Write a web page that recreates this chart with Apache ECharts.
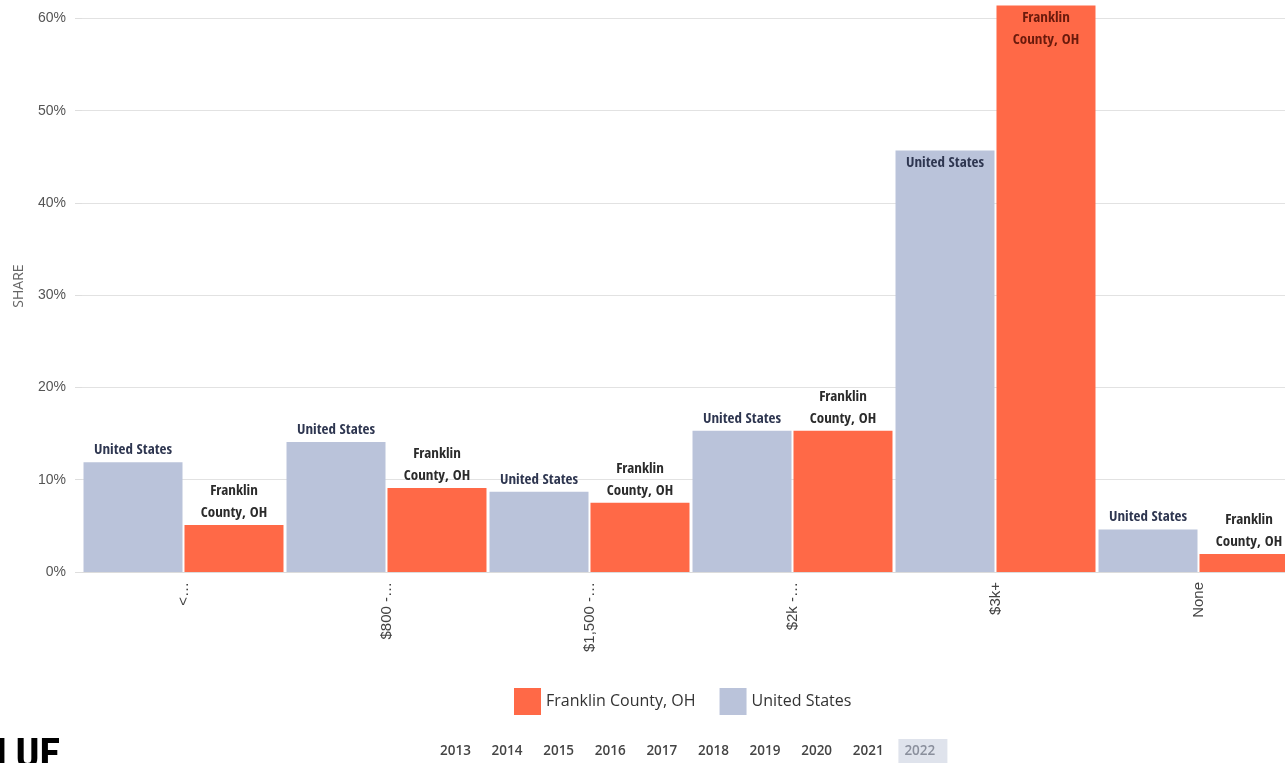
<!DOCTYPE html>
<html>
<head>
<meta charset="utf-8">
<script src="https://cdn.jsdelivr.net/npm/echarts@6/dist/echarts.min.js"></script>
<style>
html,body{margin:0;padding:0;background:#fff;}
#c{width:1285px;height:763px;}
</style>
</head>
<body>
<div id="c"></div>
<script>
const categories = ['<…', '$800 -…', '$1,500 -…', '$2k -…', '$3k+', 'None'];
const usValues = [11.9, 14.1, 8.7, 15.3, 45.7, 4.6];
const franklinValues = [5.1, 9.1, 7.5, 15.3, 61.4, 1.95];
const years = ['2013','2014','2015','2016','2017','2018','2019','2020','2021','2022'];
const selectedYear = '2022';
const yTicks = [0, 10, 20, 30, 40, 50, 60];

const US_COLOR = '#bac3da';
const FR_COLOR = '#ff6947';
const LABEL_FONT = '"Open Sans Condensed", "Roboto Condensed", sans-serif';

function makeData(values, insideColor, outsideColor) {
  return values.map(v => {
    const inside = v > 40;
    return {
      value: v,
      label: {
        position: inside ? 'insideTop' : 'top',
        color: inside ? insideColor : outsideColor,
        distance: inside ? 2 : 1
      }
    };
  });
}

const chart = echarts.init(document.getElementById('c'));

const yearGraphics = [];
const yearStartX = 440, yearStep = 51.6;
years.forEach((y, i) => {
  const x = yearStartX + i * yearStep;
  if (y === selectedYear) {
    yearGraphics.push({
      type: 'rect', left: x - 6, top: 739,
      shape: { width: 49, height: 24 },
      style: { fill: '#dfe3ec' }
    });
  }
  yearGraphics.push({
    type: 'text', left: x, top: 744,
    style: {
      text: y, fontSize: 13.5, fontWeight: 600,
      fontFamily: '"Open Sans", sans-serif',
      fill: y === selectedYear ? '#8a8f9c' : '#444'
    }
  });
});

chart.setOption({
  animation: false,
  backgroundColor: '#fff',
  grid: { left: 82, width: 1218, top: 0, bottom: 191, containLabel: false, outerBoundsMode: 'none' },
  legend: {
    data: ['Franklin County, OH', 'United States'],
    left: 509, top: 683,
    itemWidth: 27, itemHeight: 27, itemGap: 24,
    icon: 'rect',
    textStyle: { fontSize: 16, color: '#333', fontFamily: '"Open Sans", sans-serif' }
  },
  xAxis: {
    type: 'category',
    data: categories,
    axisLine: { show: true, lineStyle: { color: '#dcdcdc' } },
    axisTick: { show: false },
    axisLabel: {
      rotate: 90, margin: 10, fontSize: 15, color: '#444',
      fontFamily: '"Liberation Sans", Arial, sans-serif'
    }
  },
  yAxis: {
    type: 'value',
    min: 0, max: 62, interval: 10,
    name: 'SHARE',
    nameLocation: 'middle',
    nameGap: 56,
    nameTextStyle: { fontSize: 14, color: '#666', fontFamily: '"Open Sans", sans-serif' },
    axisLine: { show: false },
    axisTick: { show: true, length: 7, lineStyle: { color: '#dedede' } },
    axisLabel: {
      margin: 16, fontSize: 14, color: '#555',
      fontFamily: '"Liberation Sans", Arial, sans-serif',
      showMaxLabel: false,
      formatter: v => (yTicks.indexOf(v) >= 0 ? v + '%' : '')
    },
    splitLine: { showMaxLine: false, lineStyle: { color: '#e2e2e2' } }
  },
  series: [
    {
      name: 'United States', type: 'bar',
      barWidth: 99, barGap: '2%',
      itemStyle: { color: US_COLOR },
      label: {
        show: true, formatter: 'United States',
        fontFamily: LABEL_FONT, fontWeight: 'bold', fontSize: 15,
        lineHeight: 22
      },
      data: makeData(usValues, '#2e3650', '#2e3650')
    },
    {
      name: 'Franklin County, OH', type: 'bar',
      barWidth: 99, barGap: '2%',
      itemStyle: { color: FR_COLOR },
      label: {
        show: true, formatter: 'Franklin\nCounty, OH',
        fontFamily: LABEL_FONT, fontWeight: 'bold', fontSize: 15,
        lineHeight: 22
      },
      data: makeData(franklinValues, '#6a1a0c', '#2b2b2b')
    }
  ],
  graphic: [
    {
      type: 'text', left: -4, top: 736,
      style: {
        text: 'LUE', fontSize: 42, fontWeight: 'bold',
        fontFamily: '"Roboto Condensed", "Open Sans Condensed", sans-serif',
        fill: '#000'
      }
    }
  ].concat(yearGraphics)
});
</script>
</body>
</html>
